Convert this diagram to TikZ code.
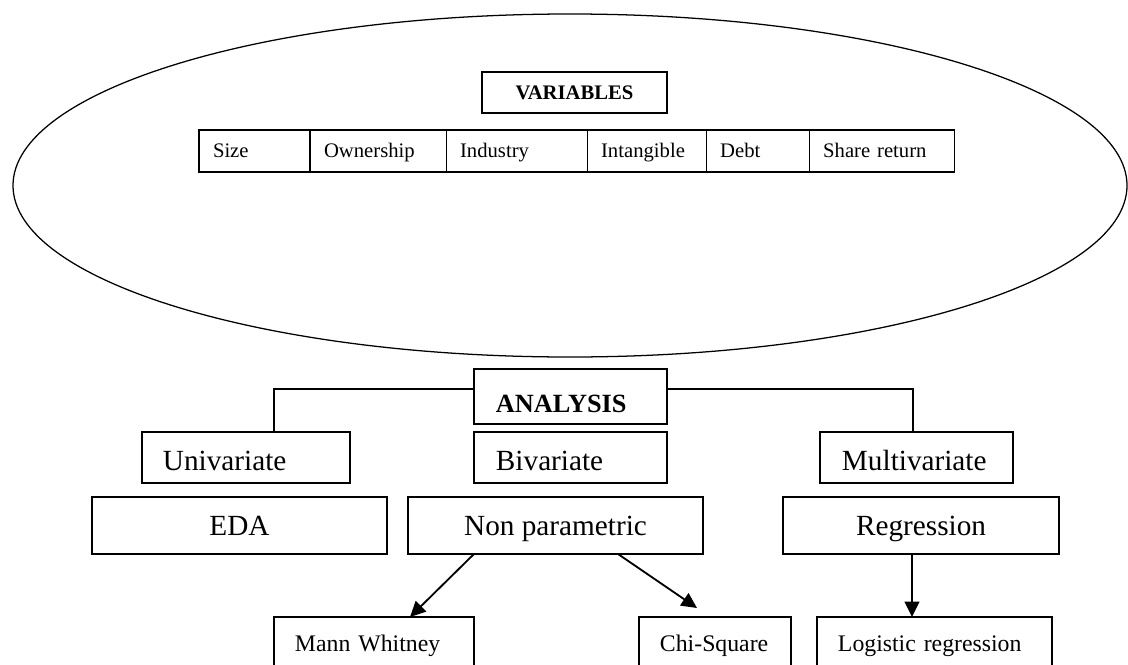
\documentclass[tikz,border=0pt]{standalone}
\usepackage{fontspec}
\setmainfont{Liberation Serif}
\usetikzlibrary{positioning,arrows.meta}

\newcommand{\cellsize}{\fontsize{14.7}{17}\selectfont}
\newcommand{\headsize}{\fontsize{18.7}{22}\selectfont}
\newcommand{\boxsize}{\fontsize{20.8}{24}\selectfont}
\newcommand{\leafsize}{\fontsize{16.9}{20}\selectfont}

\begin{document}
\begin{tikzpicture}[x=0.025cm, y=-0.025cm,
    box/.style={draw, line width=0.8pt, inner ysep=0pt, outer sep=0pt, text depth=0pt},
    cell/.style={box, font=\cellsize, text height=9.7pt, inner xsep=0.35cm, minimum height=1.05cm, align=left},
    kind/.style={box, font=\boxsize, text height=18.1pt, minimum height=1.275cm, align=left},
    method/.style={box, font=\boxsize, text height=13.8pt, minimum height=1.425cm},
    test/.style={box, font=\leafsize, text height=11.2pt, inner xsep=0.525cm, minimum height=1.35cm, align=left},
    arr/.style={-{Triangle[length=11pt, width=10.5pt]}, line width=1.3pt}]
        \useasboundingbox (0,0) rectangle (1128,664);
        \clip (0,0) rectangle (1128,664);
        \draw[line width=0.9pt] (570,185.5) ellipse [x radius=557, y radius=171.5];
        % variables
        \node[box, font=\cellsize\bfseries, text height=9.7pt, minimum width=4.625cm, minimum height=1.025cm] (var) at (574.5,92.5) {VARIABLES};
        \node[cell, text width=2.075cm, anchor=west] (size) at (199,151) {Size};
        \node[cell, text width=2.7cm, right=0pt of size] (own) {Ownership};
        \node[cell, text width=2.825cm, right=0pt of own] (ind) {Industry};
        \node[cell, text width=2.275cm, right=0pt of ind] (intang) {Intangible};
        \node[cell, text width=1.875cm, right=0pt of intang] (debt) {Debt};
        \node[cell, text width=2.925cm, right=0pt of debt] (share) {Share return};
        % analysis
        \node[box, font=\headsize\bfseries, text height=23pt, inner xsep=0.55cm, text width=3.725cm, minimum height=1.375cm, align=left] (ana) at (570.5,396.5) {ANALYSIS};
        \node[kind, inner xsep=0.525cm, text width=4.15cm] (uni) at (246,457.5) {Univariate};
        \node[kind, inner xsep=0.55cm, text width=3.725cm] (bi) at (570.5,457.5) {Bivariate};
        \node[kind, inner xsep=0.55cm, text width=3.725cm] (multi) at (916.5,457.5) {Multivariate};
        \node[method, minimum width=7.375cm] (eda) at (239.5,525.5) {EDA};
        \node[method, minimum width=7.375cm] (nonpar) at (555.5,525.5) {Non parametric};
        \node[method, minimum width=6.9cm] (regr) at (921,525.5) {Regression};
        \node[test, text width=3.95cm] (mann) at (374,644) {Mann Whitney};
        \node[test, text width=2.75cm] (chi) at (715,644) {Chi-Square};
        \node[test, text width=4.825cm] (logit) at (934.5,644) {Logistic regression};
        \coordinate (chitip) at (697,608);
        \draw[line width=0.8pt] ([yshift=0.1875cm]ana.west) -| ([xshift=0.7cm]uni.north);
        \draw[line width=0.8pt] ([yshift=0.1875cm]ana.east) -| ([xshift=-0.0875cm]multi.north);
        \draw[arr] ([xshift=-2.0375cm]nonpar.south) -- ([xshift=0.9cm]mann.north);
        \draw[arr] ([xshift=1.5625cm]nonpar.south) -- (chitip);
        \draw[arr] ([xshift=-0.225cm]regr.south) -- ([xshift=-0.225cm]regr.south |- logit.north);
      \end{tikzpicture}
\end{document}
